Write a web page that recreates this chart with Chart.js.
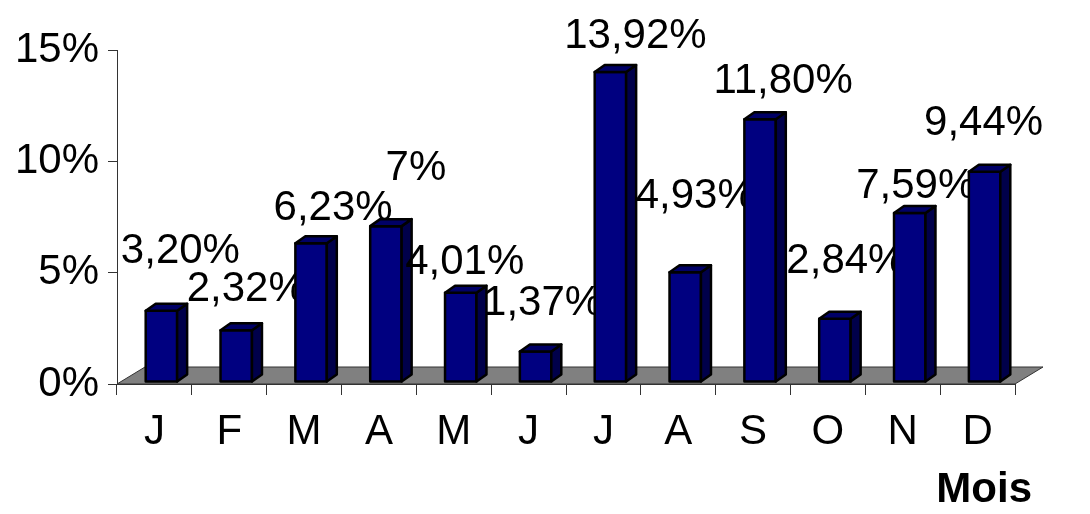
<html>
<head>
	<meta charset="utf-8">
	<title>Mois</title>
	<script src="https://cdn.jsdelivr.net/npm/chart.js@4.4.1/dist/chart.umd.min.js"></script>
	<style>
		body { margin: 0; background: #fff; }
	</style>
</head>
<body>
	<canvas id="myChart" width="1090" height="514"></canvas>

	<script>

		// Mois et valeurs (%)
		var mois = ["J", "F", "M", "A", "M", "J", "J", "A", "S", "O", "N", "D"];
		var valeurs = [3.20, 2.32, 6.23, 7, 4.01, 1.37, 13.92, 4.93, 11.80, 2.84, 7.59, 9.44];
		var etiquettes = ["3,20%", "2,32%", "6,23%", "7%", "4,01%", "1,37%", "13,92%", "4,93%", "11,80%", "2,84%", "7,59%", "9,44%"];
		var graduations = [0, 5, 10, 15];

		// décalage des étiquettes par rapport au haut des barres (px)
		var decalX = [19, 10, 22, 30, 4, 7, 25, 10, 23, 11, 6, -1];
		var decalY = [59, 41, 35, 58, 30, 48, 36, 76, 38, 57, 27, 48];

		var police = "'Liberation Sans', Arial, sans-serif";
		var taille = 42;

		// effet 3D
		var profSol = { x: 28, y: -17 };
		var profBarre = { x: 10, y: -7 };
		var avantBarre = { x: 7, y: -2 };

		var barres3d = {
			id: 'barres3d',
			beforeDatasetsDraw: function(chart) {
				var ctx = chart.ctx;
				var a = chart.chartArea;
				var y0 = chart.scales.y.getPixelForValue(0);
				ctx.save();
				ctx.beginPath();
				ctx.moveTo(a.left, y0);
				ctx.lineTo(a.right, y0);
				ctx.lineTo(a.right + profSol.x, y0 + profSol.y);
				ctx.lineTo(a.left + profSol.x, y0 + profSol.y);
				ctx.closePath();
				ctx.fillStyle = '#808080';
				ctx.fill();
				ctx.strokeStyle = '#333';
				ctx.lineWidth = 1;
				ctx.stroke();
				ctx.restore();
			},
			afterDatasetsDraw: function(chart) {
				var ctx = chart.ctx;
				var meta = chart.getDatasetMeta(0);
				ctx.save();
				ctx.lineJoin = 'round';
				ctx.lineWidth = 2.5;
				ctx.strokeStyle = '#000';
				for (var i = 0; i < meta.data.length; i++) {
					var el = meta.data[i];
					var x1 = el.x - el.width / 2 + avantBarre.x;
					var x2 = el.x + el.width / 2 + avantBarre.x;
					var haut = el.y + avantBarre.y;
					var bas = el.base + avantBarre.y;
					var dx = profBarre.x, dy = profBarre.y;

					// face avant
					ctx.fillStyle = '#000080';
					ctx.beginPath();
					ctx.rect(x1, haut, x2 - x1, bas - haut);
					ctx.fill();
					ctx.stroke();

					// côté
					ctx.fillStyle = '#00004a';
					ctx.beginPath();
					ctx.moveTo(x2, haut);
					ctx.lineTo(x2 + dx, haut + dy);
					ctx.lineTo(x2 + dx, bas + dy);
					ctx.lineTo(x2, bas);
					ctx.closePath();
					ctx.fill();
					ctx.stroke();

					// dessus
					ctx.fillStyle = '#000066';
					ctx.beginPath();
					ctx.moveTo(x1, haut);
					ctx.lineTo(x1 + dx, haut + dy);
					ctx.lineTo(x2 + dx, haut + dy);
					ctx.lineTo(x2, haut);
					ctx.closePath();
					ctx.fill();
					ctx.stroke();

					// étiquette
					ctx.fillStyle = '#000';
					ctx.font = taille + 'px ' + police;
					ctx.textAlign = 'center';
					ctx.textBaseline = 'middle';
					ctx.fillText(etiquettes[i], (x1 + x2) / 2 + decalX[i], haut - decalY[i]);
				}
				ctx.restore();
			},
			afterDraw: function(chart) {
				var ctx = chart.ctx;
				ctx.save();
				ctx.fillStyle = '#000';
				ctx.font = 'bold ' + taille + 'px ' + police;
				ctx.textAlign = 'right';
				ctx.textBaseline = 'middle';
				ctx.fillText('Mois', chart.chartArea.right + 17, 490);
				ctx.restore();
			}
		};

		var ctx = document.getElementById('myChart').getContext('2d');
		var chart = new Chart(ctx, {
			type: 'bar',
			data: {
				labels: mois,
				datasets: [{
					label: 'Mois',
					data: valeurs,
					backgroundColor: 'rgba(0,0,0,0)',
					borderWidth: 0,
					barPercentage: 0.42,
					categoryPercentage: 1
				}]
			},
			options: {
				responsive: false,
				animation: false,
				devicePixelRatio: 1,
				layout: {
					padding: { left: 0, top: 50, right: 75, bottom: 0 }
				},
				plugins: {
					legend: { display: false },
					tooltip: { enabled: false }
				},
				scales: {
					x: {
						grid: {
							drawOnChartArea: false,
							offset: true,
							tickLength: 11,
							color: '#333'
						},
						border: { color: '#333' },
						ticks: {
							color: '#000',
							padding: 12,
							font: { family: police, size: taille }
						},
						afterFit: function(scale) { scale.height = 130; }
					},
					y: {
						min: 0,
						max: 15,
						afterBuildTicks: function(scale) {
							scale.ticks = graduations.map(function(v) { return { value: v }; });
						},
						grid: {
							drawOnChartArea: false,
							tickLength: 9,
							color: '#333'
						},
						border: { color: '#333' },
						ticks: {
							color: '#000',
							padding: 9,
							font: { family: police, size: taille },
							callback: function(v) { return v + '%'; }
						},
						afterFit: function(scale) { scale.width = 117; }
					}
				}
			},
			plugins: [barres3d]
		});

	</script>
</body>
</html>
